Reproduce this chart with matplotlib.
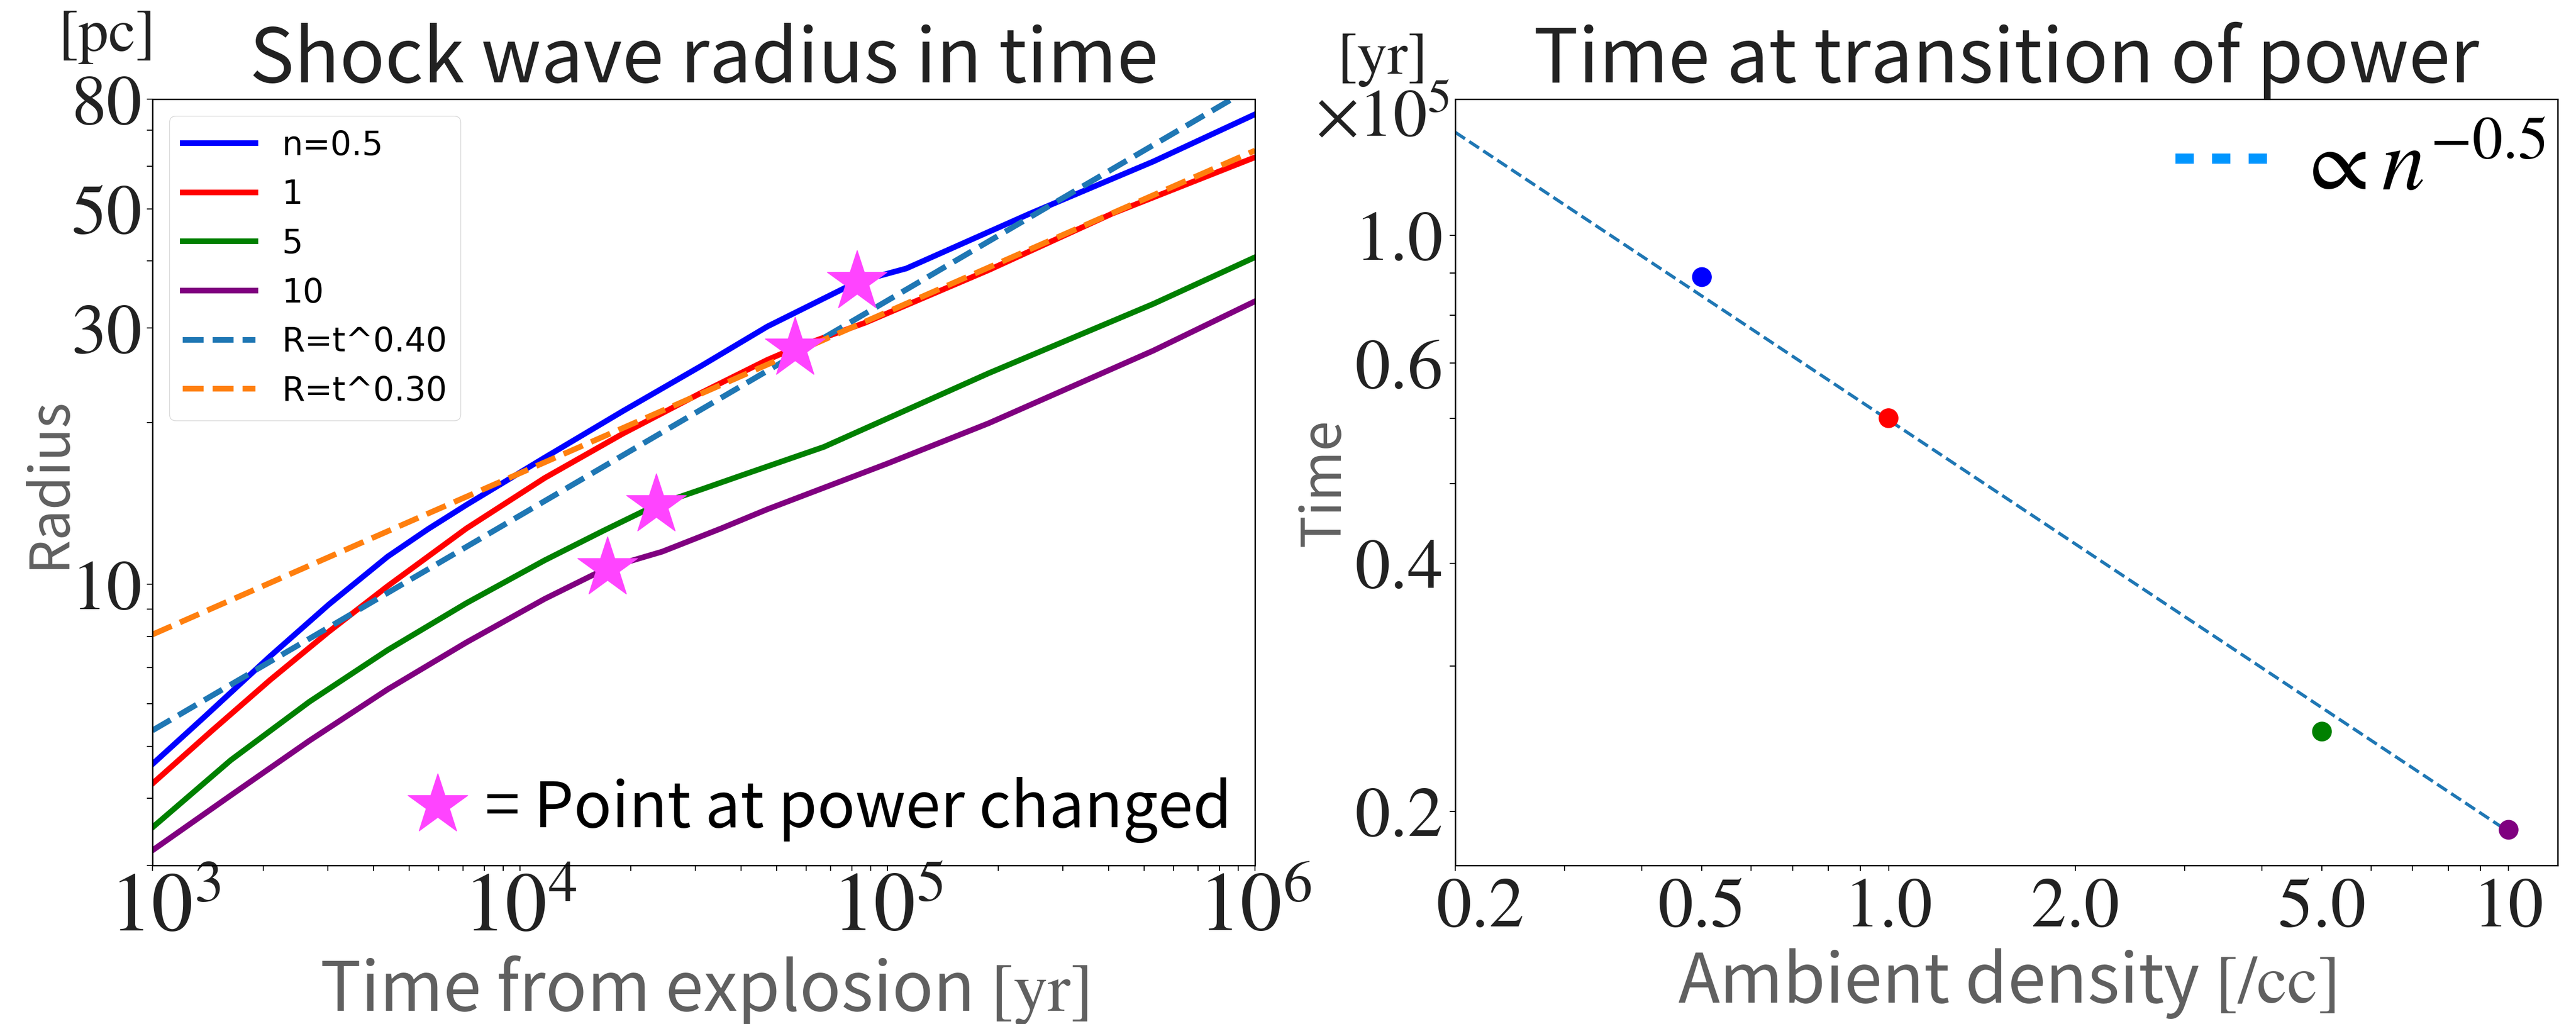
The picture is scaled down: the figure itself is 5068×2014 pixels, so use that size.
import matplotlib
matplotlib.use('Agg')
import matplotlib.pyplot as plt
from matplotlib.lines import Line2D
from matplotlib.ticker import LogLocator, NullFormatter
from matplotlib.transforms import ScaledTranslation
import numpy as np

plt.rcParams['mathtext.fontset'] = 'stix'

SANS = ['Noto Sans CJK JP', 'DejaVu Sans']
SERIF = ['STIXGeneral', 'DejaVu Serif']
DARK = '#222222'
GRAY = '#606060'
STAR = '#ff44ff'

# left panel: shock radius [pc] vs time [yr], one curve per ambient density
curve_labels = ['n=0.5', '1', '5', '10']
curve_colors = ['blue', 'red', 'green', 'purple']

t_n05 = [1000, 1377, 2089, 3020, 4365, 5623, 7145, 11670, 19100, 31190, 47100, 82600, 112500, 243800, 528400, 1000000]
R_n05 = [4.63, 5.65, 7.35, 9.18, 11.27, 12.68, 14.06, 17.22, 21.04, 25.53, 30.20, 36.56, 38.73, 48.98, 61.24, 74.99]

t_n1 = [1000, 1445, 2089, 3020, 4365, 7145, 11670, 19100, 31190, 47100, 55980, 86900, 188400, 408300, 1000000]
R_n1 = [4.26, 5.33, 6.64, 8.17, 9.93, 12.71, 15.78, 19.10, 22.75, 26.18, 27.54, 30.69, 38.46, 48.98, 62.37]

t_n5 = [1000, 1633, 2673, 4365, 7145, 11670, 16870, 23500, 31190, 40090, 67140, 188400, 528400, 1000000]
R_n5 = [3.53, 4.71, 6.05, 7.55, 9.23, 11.09, 12.59, 14.06, 15.03, 15.96, 18.03, 24.72, 33.27, 40.64]

t_n10 = [1000, 1633, 2673, 4365, 7145, 11670, 17300, 24380, 35240, 47100, 100000, 188400, 528400, 1000000]
R_n10 = [3.20, 4.05, 5.12, 6.38, 7.80, 9.40, 10.74, 11.51, 12.71, 13.80, 16.79, 19.95, 27.23, 33.65]

# points where the power index changes
star_t = [82600, 55980, 23500, 17300]
star_R = [36.56, 27.54, 14.06, 10.74]

# reference power laws (straight in log-log, two end points each)
fit_t = [1e3, 1e6]
fit_R040 = [5.35, 84.8]
fit_R030 = [8.07, 64.2]

# right panel: transition time [x1e5 yr] vs ambient density [/cc]
density = [0.5, 1, 5, 10]
t_trans = [0.89, 0.60, 0.25, 0.19]
fit_n = [0.2, 10]
fit_T = [1.334, 0.189]

fig = plt.figure(figsize=(50.68, 20.15), dpi=100)
ax1 = fig.add_axes([0.0592, 0.1548, 0.4280, 0.7479])
ax2 = fig.add_axes([0.5649, 0.1548, 0.4280, 0.7479])

# ---------- left ----------
curves = [(t_n05, R_n05), (t_n1, R_n1), (t_n5, R_n5), (t_n10, R_n10)]
for (t, R), c, lab in zip(curves, curve_colors, curve_labels):
    ax1.plot(t, R, color=c, lw=8, label=lab)
ax1.plot(fit_t, fit_R040, '--', color='#1f77b4', lw=8, label='R=t^0.40')
ax1.plot(fit_t, fit_R030, '--', color='#ff7f0e', lw=8, label='R=t^0.30')
ax1.plot(star_t, star_R, ls='none', marker='*', ms=90, color=STAR, zorder=5)

ax1.set_xscale('log')
ax1.set_yscale('log')
ax1.set_xlim(1e3, 1e6)
ax1.set_ylim(3, 80)

ax1.set_xticks([1e3, 1e4, 1e5, 1e6], ['$10^{3}$', '$10^{4}$', '$10^{5}$', '$10^{6}$'],
               fontsize=118, fontfamily=SERIF, color=DARK)
ax1.set_yticks([10, 30, 50, 80], ['10', '30', '50', '80'],
               fontsize=100, fontfamily=SERIF, color=DARK)
for axis in (ax1.xaxis, ax1.yaxis):
    axis.set_minor_locator(LogLocator(base=10, subs=np.arange(2, 10)))
    axis.set_minor_formatter(NullFormatter())
ax1.tick_params(which='both', direction='out', length=8, width=1.5)
ax1.tick_params(axis='x', which='major', pad=2)
ax1.tick_params(axis='y', which='major', pad=7)

leg1 = ax1.legend(loc='upper left', fontsize=47, handlelength=2.2, labelspacing=0.5)
ax1.add_artist(leg1)
star_handle = Line2D([], [], ls='none', marker='*', ms=90, color=STAR)
ax1.legend([star_handle], ['= Point at power changed'], loc='lower right', frameon=False,
           prop={'family': SANS, 'size': 89}, handlelength=1.0, handletextpad=0.25,
           borderaxespad=0, bbox_to_anchor=(1.0018, -0.003), numpoints=1)

ax1.set_title('Shock wave radius in time', fontsize=106, family=SANS, color=DARK, pad=-4)
ax1.set_xlabel('Time from explosion $\\mathrm{[yr]}$', fontsize=97, family=SANS, color=GRAY, labelpad=8)
ax1.set_ylabel('Radius', fontsize=77, family=SANS, color=GRAY, labelpad=-9)
ax1.text(-0.041, 1.0637, '[pc]', transform=ax1.transAxes, ha='center', va='baseline',
         fontsize=86, family=SERIF, color=DARK)

# ---------- right ----------
ax2.scatter(density, t_trans, c=curve_colors, s=27 ** 2, zorder=3)
ax2.plot(fit_n, fit_T, '--', color='#1f77b4', lw=4.5)

ax2.set_xscale('log')
ax2.set_yscale('log')
ax2.set_xlim(0.2, 12)
ax2.set_ylim(0.172, 1.463)

ax2.set_xticks([0.2, 0.5, 1, 2, 5, 10], ['0.2', '0.5', '1.0', '2.0', '5.0', '10'],
               fontsize=100, fontfamily=SERIF, color=DARK)
ax2.set_yticks([0.2, 0.4, 0.7, 1.0], ['0.2', '0.4', '0.6', '1.0'],
               fontsize=100, fontfamily=SERIF, color=DARK)
for axis in (ax2.xaxis, ax2.yaxis):
    axis.set_minor_locator(LogLocator(base=10, subs=np.arange(2, 10)))
    axis.set_minor_formatter(NullFormatter())
ax2.tick_params(which='both', direction='out', length=8, width=1.5)
ax2.tick_params(axis='x', which='major', pad=9)
ax2.tick_params(axis='y', which='major', pad=9)

fit_handle = Line2D([], [], color='#0096ff', lw=14.4, dashes=(1.8, 1.8))
ax2.legend([fit_handle], ['$\\propto n^{-0.5}$'], loc='upper right', frameon=False,
           fontsize=123, handlelength=1.15, handletextpad=0.25, borderpad=0,
           borderaxespad=0, bbox_to_anchor=(0.9889, 0.9688))

ax2.set_title('Time at transition of power', fontsize=106, family=SANS, color=DARK, pad=-4)
ax2.set_xlabel('Ambient density $\\mathrm{[/cc]}$', fontsize=97, family=SANS, color=GRAY, labelpad=8)
ax2.set_ylabel('Time', fontsize=77, family=SANS, color=GRAY, labelpad=3.5)
ax2.text(-0.066, 1.034, '[yr]', transform=ax2.transAxes, ha='center', va='baseline',
         fontsize=86, family=SERIF, color=DARK)
ax2.text(-0.066, 0.953, '$\\times 10^{5}$', transform=ax2.transAxes, ha='center', va='baseline',
         fontsize=96, color=DARK)

for ax in (ax1, ax2):
    for sp in ax.spines.values():
        sp.set_linewidth(2)
        sp.set_color('black')

# the first x tick label of each panel sits a little to the right of its tick
for ax, dx in ((ax1, 0.25), (ax2, 0.5)):
    lbl = ax.xaxis.get_major_ticks()[0].label1
    lbl.set_transform(lbl.get_transform() + ScaledTranslation(dx, 0, fig.dpi_scale_trans))

fig.savefig('out.png', dpi=100, facecolor='white')
